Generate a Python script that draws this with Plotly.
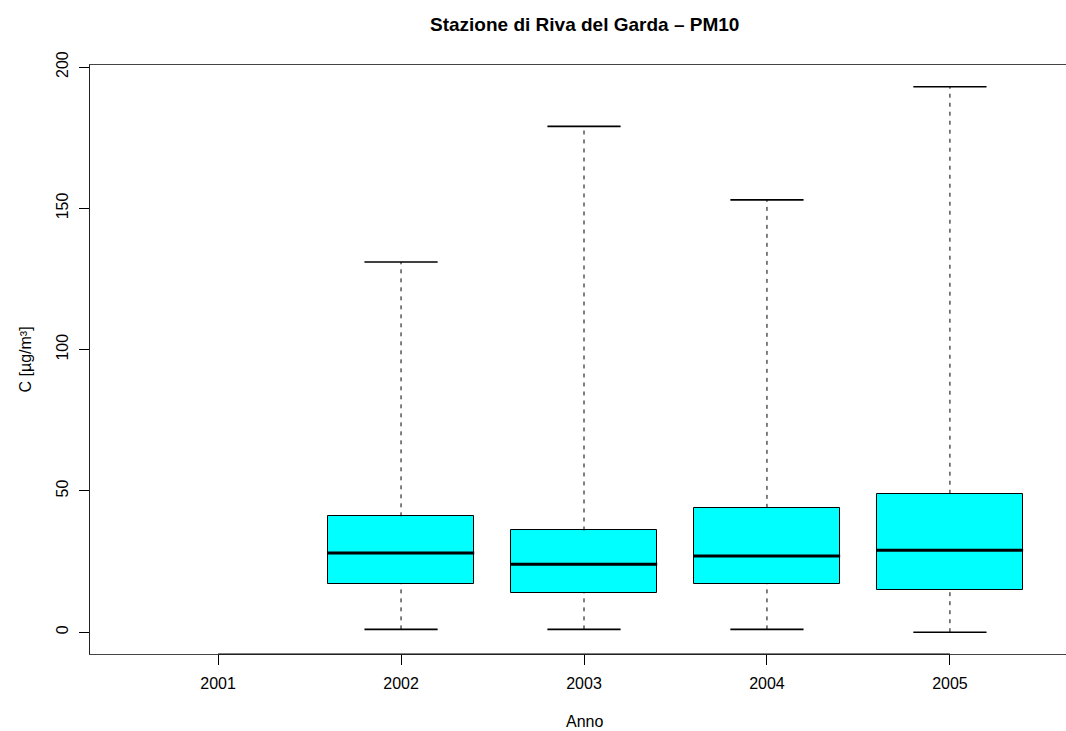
import plotly.graph_objects as go

years = ['2001', '2002', '2003', '2004', '2005']
box_years = ['2002', '2003', '2004', '2005']
whisker_low = [1, 1, 1, 0]
q1 = [17, 14, 17, 15]
median = [28, 24, 27, 29]
q3 = [41, 36, 44, 49]
whisker_high = [131, 179, 153, 193]
y_ticks = [0, 50, 100, 150, 200]

pos = [years.index(y) for y in box_years]
BOXW = 0.8
CAPW = 0.4

FONT = "Liberation Sans, Arial, Helvetica, sans-serif"

# plot area in page pixels (the original plot region runs past the right edge)
L, R, T, B = 90, 1078, 65, 654
W, H = 1078, 731
PW, PH = R - L, B - T

fig = go.Figure()

# boxes (Q1..Q3)
fig.add_trace(go.Bar(
    x=pos, y=[b - a for a, b in zip(q1, q3)], base=q1, width=BOXW,
    marker=dict(color='#00FFFF', line=dict(color='black', width=1)),
    hoverinfo='skip', showlegend=False))

# dashed whiskers
wx, wy = [], []
for p, lo, a, b, hi in zip(pos, whisker_low, q1, q3, whisker_high):
    wx += [p, p, None, p, p, None]
    wy += [lo, a, None, b, hi, None]
fig.add_trace(go.Scatter(x=wx, y=wy, mode='lines',
                         line=dict(color='black', width=1, dash='4px,5px'),
                         hoverinfo='skip', showlegend=False))

# caps
cx, cy = [], []
for p, lo, hi in zip(pos, whisker_low, whisker_high):
    cx += [p - CAPW / 2, p + CAPW / 2, None, p - CAPW / 2, p + CAPW / 2, None]
    cy += [lo, lo, None, hi, hi, None]
fig.add_trace(go.Scatter(x=cx, y=cy, mode='lines',
                         line=dict(color='black', width=1.6),
                         hoverinfo='skip', showlegend=False))

# medians
mx, my = [], []
for p, m in zip(pos, median):
    mx += [p - BOXW / 2, p + BOXW / 2, None]
    my += [m, m, None]
fig.add_trace(go.Scatter(x=mx, y=my, mode='lines',
                         line=dict(color='black', width=3),
                         hoverinfo='skip', showlegend=False))

# darker axis segment between first and last tick
fig.add_shape(type='line', xref='x', yref='paper', x0=0, x1=len(years) - 1,
              y0=0, y1=0, line=dict(color='black', width=1.2))

fig.update_layout(
    width=W, height=H,
    margin=dict(l=L, r=W - R, t=T, b=H - B, pad=0),
    paper_bgcolor='white', plot_bgcolor='white',
    font=dict(family=FONT, size=16, color='black'),
    showlegend=False,
    bargap=0,
    xaxis=dict(range=[-0.7, 4.7], tickmode='array',
               tickvals=list(range(len(years))), ticktext=years,
               showgrid=False, zeroline=False,
               showline=True, linecolor='#444', linewidth=1, mirror=True,
               ticks='outside', ticklen=10, tickcolor='black', tickwidth=1,
               ticklabelstandoff=5,
               tickfont=dict(size=16)),
    yaxis=dict(range=[-7.72, 200.72], tickmode='array', tickvals=y_ticks,
               ticktext=[str(v) for v in y_ticks], tickangle=-90,
               showgrid=False, zeroline=False,
               showline=True, linecolor='#222', linewidth=1, mirror=False,
               ticks='outside', ticklen=10, tickcolor='black', tickwidth=1,
               ticklabelstandoff=5,
               tickfont=dict(size=16)),
    annotations=[
        dict(text='<b>Stazione di Riva del Garda – PM10</b>', xref='x', yref='paper',
             x=2, y=(B - 24.5) / PH, xanchor='center', yanchor='middle',
             showarrow=False, font=dict(size=19)),
        dict(text='Anno', xref='x', yref='paper', x=2, y=(B - 721) / PH,
             xanchor='center', yanchor='middle', showarrow=False, font=dict(size=16)),
        dict(text='C [µg/m³]', xref='paper', yref='paper', x=(25 - L) / PW, y=0.5,
             xanchor='center', yanchor='middle', textangle=-90,
             showarrow=False, font=dict(size=16)),
    ],
)

fig.write_html(
    "out.html",
    config={'displayModeBar': False},
    post_script="document.body.style.margin='0';"
                "document.body.style.overflow='hidden';"
                "document.documentElement.style.overflow='hidden';",
)
